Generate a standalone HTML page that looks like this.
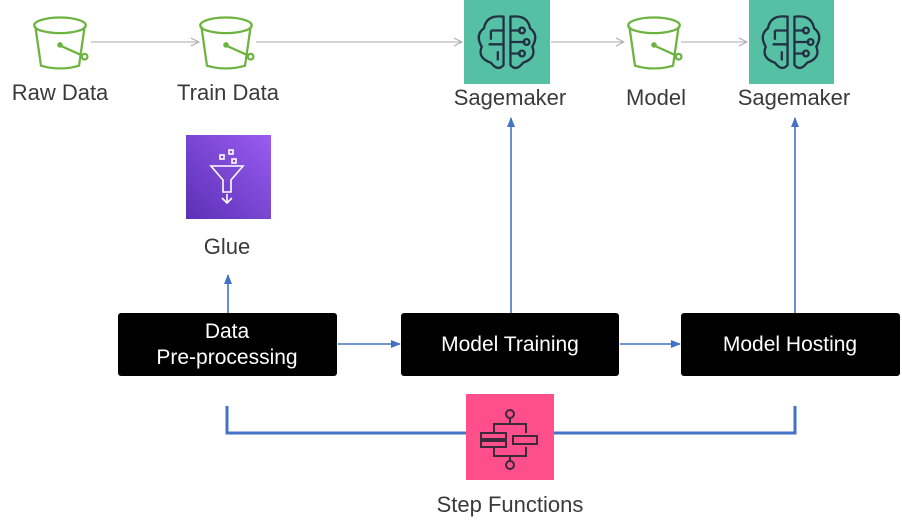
<!DOCTYPE html>
<html><head><meta charset="utf-8"><style>
html,body{margin:0;padding:0;background:#fff;}
svg{display:block;}
text{font-family:"Liberation Sans",sans-serif;}
</style></head><body>
<svg width="902" height="530" viewBox="0 0 902 530" xmlns="http://www.w3.org/2000/svg">
<defs>
<marker id="g" markerWidth="10" markerHeight="10" refX="9" refY="5" orient="auto" markerUnits="userSpaceOnUse"><path d="M1,1 L9,5 L1,9" fill="none" stroke="#aaa" stroke-width="1"/></marker>
<marker id="b" markerWidth="10" markerHeight="10" refX="9" refY="5" orient="auto" markerUnits="userSpaceOnUse"><path d="M0,1 L10,5 L0,9 Z" fill="#4472c4"/></marker>
<linearGradient id="pg" x1="0" y1="1" x2="1" y2="0"><stop offset="0" stop-color="#5a30b5"/><stop offset="1" stop-color="#9a5cf0"/></linearGradient>
<g id="bucket" fill="none" stroke="#6cb33f" stroke-width="2">
<ellipse cx="0" cy="-14" rx="23" ry="7"/>
<path d="M-22,-13 L-17,22 Q0,27 17,22 L22,-13"/>
<path d="M0,4 L20,13"/><circle cx="0" cy="3.5" r="1.5" fill="#6cb33f"/><ellipse cx="22" cy="14" rx="2.5" ry="2.5"/>
</g>
<g id="brain" fill="none" stroke="#233043" stroke-width="2">
<path d="M-3,-22 Q-18,-24 -20,-12 Q-28,-6 -22,4 Q-26,14 -14,18 Q-8,26 -3,20 Z"/>
<path d="M3,-22 Q18,-24 20,-12 Q28,-6 22,4 Q26,14 14,18 Q8,26 3,20 Z"/>
<path d="M3,-10 L12,-10 M3,0 L16,0 M3,10 L12,10 M-3,-10 L-14,-10 M-3,2 L-16,2 M-14,-10 L-14,-2 M-8,8 L-8,16"/>
<circle cx="13" cy="-10" r="2.5"/><circle cx="17" cy="0" r="2.5"/><circle cx="13" cy="10" r="2.5"/>
</g>
</defs>
<g stroke="#aaa" stroke-width="1" fill="none">
<line x1="91" y1="42" x2="199" y2="42" marker-end="url(#g)"/>
<line x1="256" y1="42" x2="462" y2="42" marker-end="url(#g)"/>
<line x1="551" y1="42" x2="624" y2="42" marker-end="url(#g)"/>
<line x1="681" y1="42" x2="747" y2="42" marker-end="url(#g)"/>
</g>
<use href="#bucket" transform="translate(60,41) scale(1.12)"/>
<use href="#bucket" transform="translate(226,41) scale(1.12)"/>
<use href="#bucket" transform="translate(654,41) scale(1.12)"/>
<rect x="464" y="0" width="86" height="84" fill="#55c0a4"/>
<use href="#brain" transform="translate(507,42) scale(1.15)"/>
<rect x="749" y="0" width="85" height="84" fill="#55c0a4"/>
<use href="#brain" transform="translate(791,42) scale(1.15)"/>
<g font-size="22" fill="#3a3a3a" text-anchor="middle">
<text x="60" y="100">Raw Data</text>
<text x="228" y="100">Train Data</text>
<text x="510" y="105">Sagemaker</text>
<text x="656" y="105">Model</text>
<text x="794" y="105">Sagemaker</text>
<text x="227" y="254">Glue</text>
<text x="510" y="512">Step Functions</text>
</g>
<rect x="186" y="135" width="85" height="84" fill="url(#pg)"/>
<g fill="none" stroke="#fff" stroke-width="1.6">
<path d="M211,166 L243,166 L231,180 L231,192 L223,192 L223,180 Z"/>
<path d="M227,194 L227,202 M222,198 L227,203 L232,198"/>
<rect x="220" y="155" width="4" height="4"/><rect x="229" y="150" width="4" height="4"/><rect x="232" y="159" width="4" height="4"/>
</g>
<g stroke="#4472c4" stroke-width="1.6" fill="none">
<line x1="228" y1="313" x2="228" y2="275" marker-end="url(#b)"/>
<line x1="511" y1="313" x2="511" y2="118" marker-end="url(#b)"/>
<line x1="795" y1="313" x2="795" y2="118" marker-end="url(#b)"/>
<line x1="338" y1="344" x2="400" y2="344" marker-end="url(#b)"/>
<line x1="620" y1="344" x2="680" y2="344" marker-end="url(#b)"/>
<path d="M227,406 L227,433 L795,433 L795,406" stroke-width="3"/>
</g>
<rect x="118" y="313" width="219" height="63" rx="3" fill="#000"/>
<rect x="401" y="313" width="218" height="63" rx="3" fill="#000"/>
<rect x="681" y="313" width="219" height="63" rx="3" fill="#000"/>
<g font-size="21" fill="#fff" text-anchor="middle">
<text x="227" y="338">Data</text>
<text x="227" y="364">Pre-processing</text>
<text x="510" y="351">Model Training</text>
<text x="790" y="351">Model Hosting</text>
</g>
<rect x="466" y="394" width="88" height="86" fill="#ff4f8b"/>
<g fill="none" stroke="#3a2a3a" stroke-width="2">
<circle cx="510" cy="414" r="4"/><line x1="510" y1="418" x2="510" y2="424"/>
<path d="M494,433 L494,424 L526,424 L526,433 M494,447 L494,456 L526,456 L526,447"/>
<rect x="481" y="433" width="25" height="6"/><rect x="481" y="441" width="25" height="6"/>
<rect x="513" y="436" width="24" height="8"/>
<line x1="510" y1="456" x2="510" y2="461"/><circle cx="510" cy="465" r="4"/>
</g>
</svg>
</body></html>
